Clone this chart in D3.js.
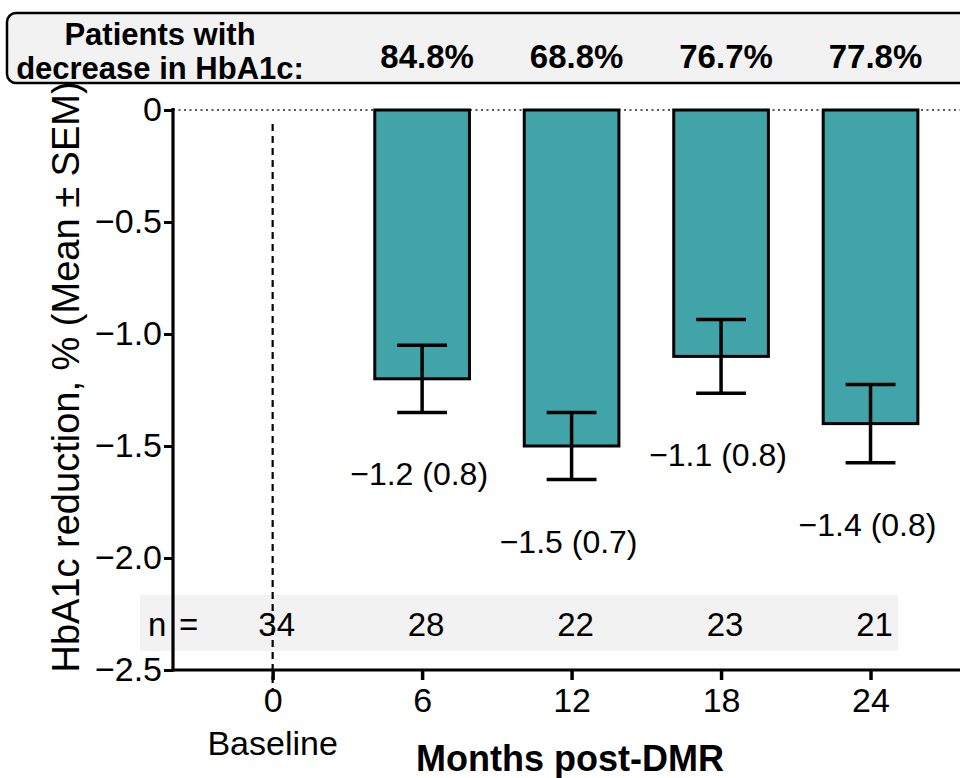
<!DOCTYPE html>
<html>
<head>
<meta charset="utf-8">
<script src="https://cdn.jsdelivr.net/npm/d3@7"></script>
<style>
  html, body { margin: 0; padding: 0; background: #fff; }
  svg { display: block; font-family: "Liberation Sans", Arial, sans-serif; }
</style>
</head>
<body>
<svg id="chart" width="960" height="778"></svg>
<script>
// Follow-up visits (months after DMR)
const months = [6, 12, 18, 24];
// Mean HbA1c change (%) and its SEM at each visit
const meanChange = [-1.2, -1.5, -1.1, -1.4];
const semValues = [0.15, 0.15, 0.165, 0.175];
// Standard deviation printed under each bar
const sdValues = [0.8, 0.7, 0.8, 0.8];
// Share of patients whose HbA1c went down
const pctDecrease = ["84.8%", "68.8%", "76.7%", "77.8%"];
// Number of patients at each time point (baseline first)
const nMonths = [0, 6, 12, 18, 24];
const nPatients = [34, 28, 22, 23, 21];
// Axis ticks
const xTicks = [0, 6, 12, 18, 24];
const yTicks = [0, -0.5, -1.0, -1.5, -2.0, -2.5];

const svg = d3.select("#chart");
const teal = "#40a4a8";

const x = d3.scaleLinear().domain([-4, 30]).range([173, 1020]);
const y = d3.scaleLinear().domain([-2.5, 0]).range([670, 110]);

const barW = x(3.8) - x(0);
const capW = x(2) - x(0);

// Header strip with percentages
svg.append("rect")
  .attr("x", 7).attr("y", 13).attr("width", 1010).attr("height", 70)
  .attr("rx", 9).attr("ry", 9)
  .attr("fill", "#f2f2f2").attr("stroke", "#000").attr("stroke-width", 2.5);

const head = svg.append("text")
  .attr("text-anchor", "middle").attr("font-weight", "bold")
  .attr("font-size", 31).attr("fill", "#000");
head.append("tspan").attr("x", 160).attr("y", 45).text("Patients with");
head.append("tspan").attr("x", 160).attr("y", 79).text("decrease in HbA1c:");

svg.append("g").selectAll("text").data(months).join("text")
  .attr("x", d => x(d) + 5).attr("y", 68)
  .attr("text-anchor", "middle").attr("font-weight", "bold")
  .attr("font-size", 33)
  .text((d, i) => pctDecrease[i]);

// n row band
svg.append("rect")
  .attr("x", 140).attr("y", 595).attr("width", 758).attr("height", 56)
  .attr("fill", "#f2f2f2");

// Zero reference line
svg.append("line")
  .attr("x1", x(-4)).attr("x2", 960).attr("y1", y(0)).attr("y2", y(0))
  .attr("stroke", "#222").attr("stroke-width", 1.4)
  .attr("stroke-dasharray", "2,3.5");

// Baseline marker
svg.append("line")
  .attr("x1", x(0)).attr("x2", x(0)).attr("y1", 124).attr("y2", 690)
  .attr("stroke", "#000").attr("stroke-width", 2.2)
  .attr("stroke-dasharray", "7,5");

// Bars
svg.append("g").selectAll("rect").data(months).join("rect")
  .attr("x", d => x(d) - barW / 2)
  .attr("y", y(0))
  .attr("width", barW)
  .attr("height", (d, i) => y(meanChange[i]) - y(0))
  .attr("fill", teal).attr("stroke", "#000").attr("stroke-width", 3);

// Error bars (mean ± SEM)
const eb = svg.append("g").attr("stroke", "#000").attr("stroke-width", 3.5);
months.forEach((m, i) => {
  const hi = y(meanChange[i] + semValues[i]);
  const lo = y(meanChange[i] - semValues[i]);
  eb.append("line").attr("x1", x(m)).attr("x2", x(m)).attr("y1", hi).attr("y2", lo);
  eb.append("line").attr("x1", x(m) - capW / 2).attr("x2", x(m) + capW / 2).attr("y1", hi).attr("y2", hi);
  eb.append("line").attr("x1", x(m) - capW / 2).attr("x2", x(m) + capW / 2).attr("y1", lo).attr("y2", lo);
});

// Mean (SD) labels below each bar
const fmt1 = d3.format(".1f");
svg.append("g").selectAll("text").data(months).join("text")
  .attr("x", d => x(d) - 3)
  .attr("y", (d, i) => y(meanChange[i] - semValues[i]) + 73)
  .attr("text-anchor", "middle").attr("font-size", 32)
  .text((d, i) => `${fmt1(meanChange[i])} (${fmt1(sdValues[i])})`);

// n values
svg.append("text").attr("x", 148).attr("y", 636).attr("font-size", 33).text("n");
svg.append("text").attr("x", 179).attr("y", 636).attr("font-size", 33).text("=");
svg.append("g").selectAll("text").data(nMonths).join("text")
  .attr("x", d => x(d) + 4).attr("y", 636)
  .attr("text-anchor", "middle").attr("font-size", 33)
  .text((d, i) => nPatients[i]);

// Axes
const yAxis = d3.axisLeft(y).tickValues(yTicks).tickSize(9).tickPadding(2)
  .tickFormat(d => d === 0 ? "0" : fmt1(d));
const gy = svg.append("g").attr("transform", `translate(${x(-4)},0)`).call(yAxis);
gy.select(".domain").attr("d", `M0,${y(0) - 2}V${y(-2.5) + 1.5}`)
  .attr("stroke", "#000").attr("stroke-width", 3.2);
gy.selectAll(".tick line").attr("stroke", "#000").attr("stroke-width", 3);
gy.selectAll(".tick text").attr("font-size", 34).attr("fill", "#000")
  .attr("font-family", "Liberation Sans, Arial, sans-serif");

const xAxis = d3.axisBottom(x).tickValues(xTicks).tickSize(10).tickPadding(8)
  .tickFormat(d3.format("d"));
const gx = svg.append("g").attr("transform", `translate(0,${y(-2.5)})`).call(xAxis);
gx.select(".domain").attr("d", `M${x(-4) - 1.5},0H1000`)
  .attr("stroke", "#000").attr("stroke-width", 3.2);
gx.selectAll(".tick line").attr("stroke", "#000").attr("stroke-width", 3.5);
gx.selectAll(".tick text").attr("font-size", 34).attr("fill", "#000")
  .attr("font-family", "Liberation Sans, Arial, sans-serif");

// Axis titles
svg.append("text").attr("x", x(0)).attr("y", 755)
  .attr("text-anchor", "middle").attr("font-size", 34).text("Baseline");
svg.append("text").attr("x", 570).attr("y", 771)
  .attr("text-anchor", "middle").attr("font-size", 36).attr("font-weight", "bold")
  .text("Months post-DMR");
svg.append("text")
  .attr("transform", "translate(79,377) rotate(-90)")
  .attr("text-anchor", "middle").attr("font-size", 38)
  .text("HbA1c reduction, % (Mean ± SEM)");
</script>
</body>
</html>
